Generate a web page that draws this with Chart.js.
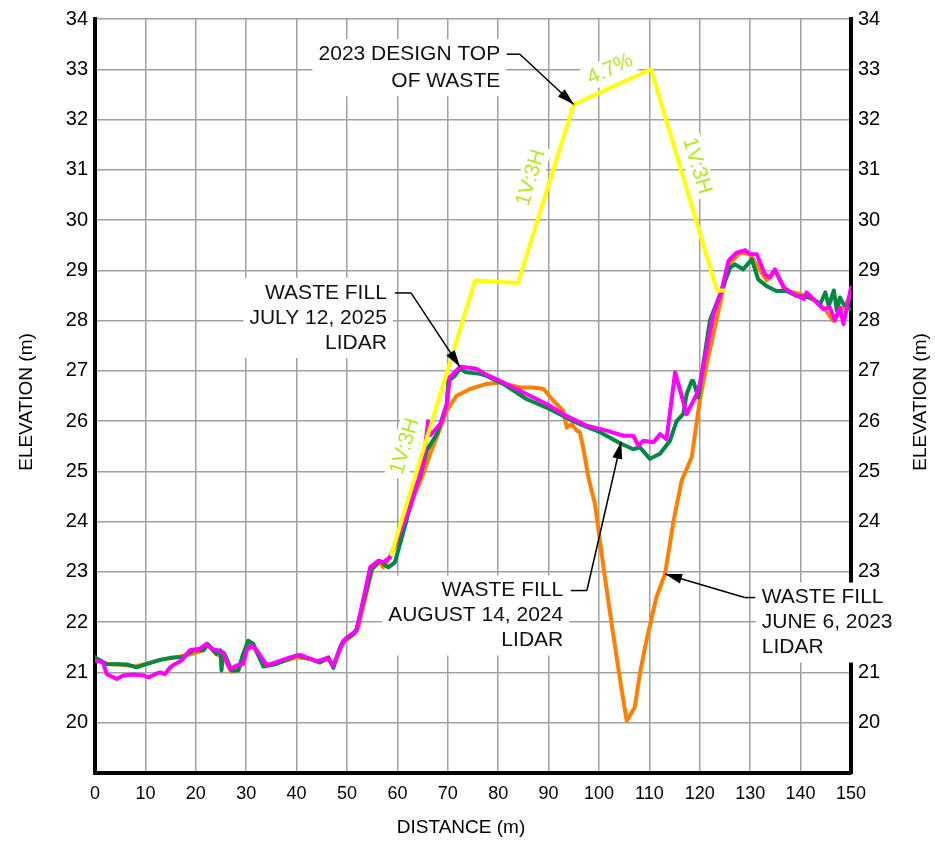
<!DOCTYPE html>
<html>
<head>
<meta charset="utf-8">
<script src="https://cdn.jsdelivr.net/npm/chart.js@4.4.1/dist/chart.umd.min.js"></script>
<style>
  body { margin: 0; background: #fff; }
  canvas { display: block; }
</style>
</head>
<body>
<canvas id="profile" width="935" height="843"></canvas>
<script>
// distance (m), elevation (m) pairs
const designTop2023 = [[58.8, 23.35], [75.4, 28.8], [83.9, 28.75], [95, 32.3], [110.3, 33.0], [123.4, 28.6], [124.8, 28.6]];

const lidar2023 = [
  [0, 21.3], [2, 21.17], [5, 21.16], [8, 21.12], [10, 21.17], [13, 21.25], [16, 21.3], [19, 21.36],
  [21.5, 21.44], [22.5, 21.55], [24, 21.37], [25.5, 21.3], [27, 21.02], [28.5, 21.05], [29.5, 21.3],
  [30.5, 21.55], [31.5, 21.5], [33.5, 21.15], [36, 21.18], [40, 21.3], [42.7, 21.27], [44.6, 21.2],
  [46.3, 21.28], [47.3, 21.12], [48.6, 21.45], [49.5, 21.62], [51.5, 21.77], [52.2, 21.88], [55, 23.05],
  [56.5, 23.2], [57.2, 23.09], [58.5, 23.29], [61.2, 23.89], [63.2, 24.48], [65.1, 24.94], [66.5, 25.35],
  [67.8, 25.68], [69.8, 26.21], [71.7, 26.5], [74.4, 26.64], [77.7, 26.74], [80.3, 26.77], [84.3, 26.67],
  [87, 26.67], [89, 26.64], [90.9, 26.41], [92.9, 26.21], [93.6, 25.87], [94.6, 25.94], [95.6, 25.81],
  [96.2, 25.78], [96.9, 25.45], [97.9, 24.88], [99.2, 24.35], [100.9, 23.09], [102.5, 21.97], [104.2, 20.84],
  [105.5, 20.04], [107.1, 20.31], [108.1, 20.97], [109.4, 21.63], [111.4, 22.5], [113.1, 22.96], [114.8, 24.02],
  [116.4, 24.82], [118.4, 25.28], [120, 26.41], [121.5, 27.2], [123.3, 28.0], [125.7, 29.12], [128, 29.35],
  [130, 29.32], [132, 28.99], [133.3, 28.8], [134.9, 28.99], [137.2, 28.59], [139.9, 28.53], [143.1, 28.39],
  [145.1, 28.19], [146.4, 28.0], [148, 28.2], [149.8, 28.46]
];

const lidar2024 = [
  [0, 21.3], [2.3, 21.17], [6.3, 21.16], [8.3, 21.1], [10.3, 21.17], [12.9, 21.25], [15.5, 21.3], [17.5, 21.31],
  [19.5, 21.44], [21.5, 21.44], [22.3, 21.57], [24.1, 21.37], [24.9, 21.44], [25.1, 21.04], [25.4, 21.4],
  [25.7, 21.37], [27.1, 21.04], [28.4, 21.04], [29.4, 21.37], [30.4, 21.63], [31.4, 21.57], [33.4, 21.12],
  [36, 21.17], [40, 21.34], [42.7, 21.27], [44.6, 21.2], [46.3, 21.3], [47.3, 21.09], [48.6, 21.5],
  [49.3, 21.63], [51.3, 21.77], [51.9, 21.87], [54.9, 23.06], [56.5, 23.22], [58.2, 23.09], [59.5, 23.19],
  [61.8, 24.02], [63.2, 24.62], [64.5, 24.88], [65.8, 25.41], [67.8, 25.74], [68.1, 25.81], [69.8, 26.34],
  [70.1, 26.8], [71.4, 26.9], [72.4, 27.04], [73.7, 26.97], [76.4, 26.94], [77.7, 26.9], [81, 26.74],
  [85.6, 26.44], [89.6, 26.27], [93.6, 26.07], [96.2, 25.94], [100.2, 25.78], [104.2, 25.56], [106.8, 25.44],
  [108.1, 25.48], [110.1, 25.25], [112.1, 25.35], [114.1, 25.61], [115.4, 26.0], [116.7, 26.14], [117.4, 26.54],
  [118.4, 26.8], [118.7, 26.8], [119.7, 26.47], [122, 28.0], [124.3, 28.59], [126, 29.05], [126.9, 29.12],
  [128.6, 29.02], [130.3, 29.22], [131.6, 28.82], [133.2, 28.69], [135.2, 28.59], [137.2, 28.59], [139.2, 28.49],
  [141.9, 28.46], [143.9, 28.33], [144.9, 28.56], [145.6, 28.29], [146.6, 28.6], [147.2, 28.19], [147.8, 28.46],
  [148.5, 28.33], [149.8, 28.23]
];

const lidar2025 = [
  [0, 21.24], [1.6, 21.2], [2.3, 20.97], [4.3, 20.87], [5.6, 20.94], [7.6, 20.96], [9.6, 20.94], [10.6, 20.9],
  [12, 20.97], [12.9, 21.0], [13.9, 20.97], [14.9, 21.1], [15.9, 21.17], [17.2, 21.24], [18.8, 21.44],
  [20.8, 21.47], [22.1, 21.57], [23.1, 21.47], [24.5, 21.44], [25.5, 21.37], [26.8, 21.07], [28.1, 21.14],
  [29.4, 21.17], [30.1, 21.44], [31.1, 21.54], [32.1, 21.44], [34.1, 21.14], [38.7, 21.3], [40.7, 21.35],
  [44, 21.22], [46.1, 21.29], [47.3, 21.14], [49, 21.57], [50, 21.7], [51.9, 21.83], [54.6, 23.09],
  [56.2, 23.22], [57.2, 23.19], [58.5, 23.29], [62.5, 24.28], [65.1, 25.15], [66.1, 26.0], [66.5, 25.72],
  [67.1, 25.78], [68.5, 25.94], [68.8, 26.0], [69.8, 26.34], [70.4, 26.87], [72.4, 27.08], [75.7, 27.04],
  [77.7, 26.92], [81, 26.77], [85.6, 26.54], [89.6, 26.34], [93.6, 26.1], [97.5, 25.91], [101.5, 25.81],
  [104.8, 25.71], [106.8, 25.71], [107.8, 25.51], [108.8, 25.61], [110.8, 25.58], [112.1, 25.74], [113.4, 25.64],
  [115.1, 26.97], [117.4, 26.14], [119.4, 26.54], [120, 26.74], [122.7, 28.13], [124.3, 28.59], [125.7, 29.19],
  [127.3, 29.35], [129, 29.4], [130, 29.32], [131.3, 29.32], [132.9, 28.92], [133.9, 28.86], [134.9, 29.02],
  [136.6, 28.66], [138.6, 28.53], [140.6, 28.43], [141.2, 28.56], [142.9, 28.39], [144.5, 28.23], [145.8, 28.26],
  [146.8, 28.0], [147.8, 28.26], [148.5, 27.93], [150, 28.66]
];

const FONT = '"Liberation Sans", Arial, sans-serif';
const slopeGreen = '#b2ea22';

// callouts: text anchored in data units, leader runs from the text to a point on a line
const callouts = [
  { lines: ['2023 DESIGN TOP', 'OF WASTE'], x: 80.4, y: 33.3, align: 'right', gap: 27,
    leader: [[81.7, 33.3], [84.3, 33.3]], tip: [95, 32.3] },
  { lines: ['WASTE FILL', 'JULY 12, 2025', 'LIDAR'], x: 57.9, y: 28.55, align: 'right', gap: 25,
    leader: [[59.5, 28.55], [62.7, 28.55]], tip: [72.4, 27.08] },
  { lines: ['WASTE FILL', 'AUGUST 14, 2024', 'LIDAR'], x: 92.9, y: 22.63, align: 'right', gap: 25,
    leader: [[94.4, 22.63], [97.6, 22.63]], tip: [104.4, 25.59] },
  { lines: ['WASTE FILL', 'JUNE 6, 2023', 'LIDAR'], x: 132.3, y: 22.49, align: 'left', gap: 25,
    leader: [[131, 22.49], [128.9, 22.49]], tip: [113.1, 22.96] }
];

const slopeLabels = [
  { text: '4.7%', x: 102.2, y: 33.0, angle: -24.8 },
  { text: '1V:3H', x: 86.5, y: 30.84, angle: -73.3 },
  { text: '1V:3H', x: 119.4, y: 31.08, angle: 73.3 },
  { text: '1V:3H', x: 61.5, y: 25.5, angle: -73.3 }
];

function drawArrow(ctx, x1, y1, x2, y2) {
  ctx.beginPath();
  ctx.moveTo(x1, y1);
  ctx.lineTo(x2, y2);
  ctx.stroke();
  const a = Math.atan2(y2 - y1, x2 - x1);
  const len = 17, w = 5;
  const bx = x2 - len * Math.cos(a), by = y2 - len * Math.sin(a);
  ctx.beginPath();
  ctx.moveTo(x2, y2);
  ctx.lineTo(bx + w * Math.sin(a), by - w * Math.cos(a));
  ctx.lineTo(bx - w * Math.sin(a), by + w * Math.cos(a));
  ctx.closePath();
  ctx.fill();
}

function axisTitle(ctx, text, x, y, rotation) {
  ctx.save();
  ctx.translate(x, y);
  ctx.rotate(rotation);
  ctx.fillText(text, 0, 0);
  ctx.restore();
}

const sectionNotes = {
  id: 'sectionNotes',
  beforeDatasetsDraw(chart) {
    const ctx = chart.ctx;
    const sx = chart.scales.x, sy = chart.scales.y;
    ctx.save();
    ctx.font = '21px ' + FONT;
    ctx.textBaseline = 'middle';
    callouts.forEach((c) => {
      const x = sx.getPixelForValue(c.x), y = sy.getPixelForValue(c.y);
      const w = Math.max(...c.lines.map((t) => ctx.measureText(t).width));
      const left = c.align === 'right' ? x - w : x;
      ctx.fillStyle = '#fff';
      ctx.fillRect(left - 6, y - 15, w + 12, c.gap * (c.lines.length - 1) + 30);
      ctx.fillStyle = '#111';
      ctx.textAlign = c.align;
      c.lines.forEach((t, i) => ctx.fillText(t, x, y + i * c.gap));
    });
    slopeLabels.forEach((s) => {
      const w = ctx.measureText(s.text).width;
      ctx.save();
      ctx.translate(sx.getPixelForValue(s.x), sy.getPixelForValue(s.y));
      ctx.rotate(s.angle * Math.PI / 180);
      ctx.fillStyle = '#fff';
      ctx.fillRect(-w / 2 - 4, -12, w + 8, 24);
      ctx.fillStyle = slopeGreen;
      ctx.textAlign = 'center';
      ctx.fillText(s.text, 0, 0);
      ctx.restore();
    });
    ctx.restore();
  },
  afterDatasetsDraw(chart) {
    const ctx = chart.ctx;
    const sx = chart.scales.x, sy = chart.scales.y;
    ctx.save();
    ctx.strokeStyle = '#000';
    ctx.fillStyle = '#000';
    ctx.lineWidth = 1.5;
    callouts.forEach((c) => {
      const p = c.leader.map(([a, b]) => [sx.getPixelForValue(a), sy.getPixelForValue(b)]);
      ctx.beginPath();
      ctx.moveTo(p[0][0], p[0][1]);
      ctx.lineTo(p[1][0], p[1][1]);
      ctx.stroke();
      drawArrow(ctx, p[1][0], p[1][1], sx.getPixelForValue(c.tip[0]), sy.getPixelForValue(c.tip[1]));
    });
    ctx.restore();
  },
  afterDraw(chart) {
    // axis titles: both elevation titles read bottom to top
    const ctx = chart.ctx;
    ctx.save();
    ctx.font = '19px ' + FONT;
    ctx.fillStyle = '#000';
    ctx.textAlign = 'center';
    ctx.textBaseline = 'middle';
    axisTitle(ctx, 'ELEVATION (m)', 27, 402, -Math.PI / 2);
    axisTitle(ctx, 'ELEVATION (m)', 921, 402, -Math.PI / 2);
    axisTitle(ctx, 'DISTANCE (m)', 461, 828, 0);
    ctx.restore();
  }
};

const gridStyle = { color: '#a0a0a0', lineWidth: 1.5, drawTicks: false };
const elevationTicks = {
  stepSize: 1,
  padding: 7,
  color: '#000',
  font: { family: FONT, size: 20 },
  callback: (v) => (v === 19 ? '' : v)
};

new Chart(document.getElementById('profile'), {
  type: 'line',
  data: {
    datasets: [
      { label: '2023 Design Top of Waste', data: designTop2023.map(([x, y]) => ({ x, y })),
        borderColor: '#ffff00', order: 0 },
      { label: 'Waste Fill July 12, 2025 LiDAR', data: lidar2025.map(([x, y]) => ({ x, y })),
        borderColor: '#ff00ff', order: 1 },
      { label: 'Waste Fill August 14, 2024 LiDAR', data: lidar2024.map(([x, y]) => ({ x, y })),
        borderColor: '#008844', order: 2 },
      { label: 'Waste Fill June 6, 2023 LiDAR', data: lidar2023.map(([x, y]) => ({ x, y })),
        borderColor: '#ff8000', order: 3 }
    ]
  },
  options: {
    responsive: false,
    devicePixelRatio: 1,
    animation: false,
    layout: { padding: { top: 18, left: 0, right: 0, bottom: 0 } },
    elements: {
      point: { radius: 0 },
      line: { borderWidth: 4, tension: 0, borderJoinStyle: 'round', borderCapStyle: 'round' }
    },
    plugins: { legend: { display: false }, tooltip: { enabled: false } },
    scales: {
      x: {
        type: 'linear',
        min: 0,
        max: 150,
        grid: gridStyle,
        border: { color: '#000', width: 4 },
        ticks: { stepSize: 10, padding: 10, color: '#000', font: { family: FONT, size: 18 }, maxRotation: 0 },
        afterFit: (scale) => { scale.height = 70; }
      },
      y: {
        position: 'left',
        min: 19,
        max: 34,
        grid: gridStyle,
        border: { color: '#000', width: 4 },
        ticks: elevationTicks,
        afterFit: (scale) => { scale.width = 95; }
      },
      y2: {
        position: 'right',
        min: 19,
        max: 34,
        grid: { display: false, drawTicks: false },
        border: { color: '#000', width: 4 },
        ticks: elevationTicks,
        afterFit: (scale) => { scale.width = 84; }
      }
    }
  },
  plugins: [sectionNotes]
});
</script>
</body>
</html>
